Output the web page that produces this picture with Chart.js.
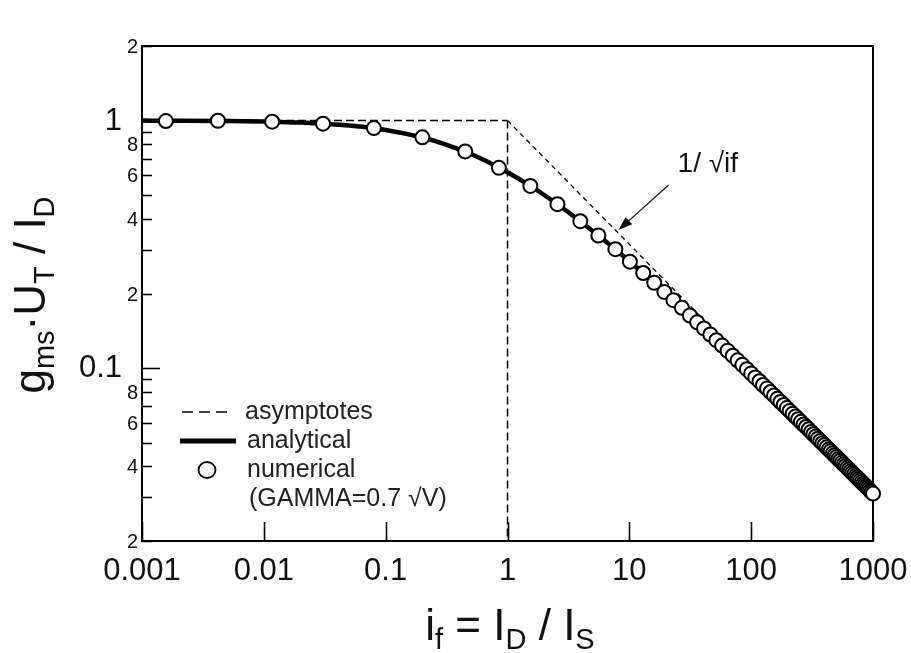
<!DOCTYPE html>
<html>
<head>
<meta charset="utf-8">
<script src="https://cdn.jsdelivr.net/npm/chart.js@4.4.1/dist/chart.umd.min.js"></script>
<style>
  html, body { margin: 0; padding: 0; background: #fff; }
  #wrap { width: 911px; height: 653px; }
</style>
</head>
<body>
<div id="wrap"><canvas id="gmChart"></canvas></div>
<script>
// axis ticks (log-log)
const X_TICKS = [0.001, 0.01, 0.1, 1, 10, 100, 1000];
const X_TICK_LABELS = ['0.001', '0.01', '0.1', '1', '10', '100', '1000'];
const Y_TICKS = [0.02, 0.03, 0.04, 0.05, 0.06, 0.07, 0.08, 0.09, 0.1,
                 0.2, 0.3, 0.4, 0.5, 0.6, 0.7, 0.8, 0.9, 1, 2];
const Y_TICK_LABELS = ['2', '', '4', '', '6', '', '8', '', '0.1',
                       '2', '', '4', '', '6', '', '8', '', '1', '2'];

// asymptotes: weak inversion (flat) and strong inversion (1/sqrt(if))
const ASYM_FLAT_X = [0.001, 1];
const ASYM_FLAT_Y = [1, 1];
const ASYM_SLOPE_X = [1, 1000];
const ASYM_SLOPE_Y = [1, 0.0316];
const ASYM_VERT_X = [1, 1];
const ASYM_VERT_Y = [1, 0.02];

// analytical curve
const ANA_X = [0.001, 0.002, 0.005, 0.01, 0.02, 0.05, 0.1, 0.2, 0.3, 0.5,
               0.7, 1, 1.5, 2, 3, 5, 7, 10, 15, 20,
               30, 50, 70, 100, 150, 200, 300, 500, 700, 1000];
const ANA_Y = [0.999, 0.998, 0.995, 0.990, 0.981, 0.954, 0.916, 0.854, 0.805, 0.732,
               0.678, 0.618, 0.549, 0.500, 0.434, 0.358, 0.313, 0.270, 0.227, 0.200,
               0.1667, 0.132, 0.1126, 0.0951, 0.0784, 0.0683, 0.0561, 0.0437, 0.0371, 0.0311];

// numerical simulation (GAMMA = 0.7 sqrt(V))
const NUM_X = [0.00157, 0.0042, 0.0117, 0.0306, 0.080, 0.20, 0.45, 0.85, 1.54, 2.57,
               3.96, 5.57, 7.68, 10.1, 13, 16, 19.4, 23, 27, 31.4,
               36, 41, 46.2, 51.8, 57.8, 64, 70.6, 77.4, 84.6, 92.2,
               100, 108, 117, 125, 135, 144, 154, 164, 174, 185,
               196, 207, 219, 231, 243, 256, 269, 282, 296, 310,
               324, 339, 353, 369, 384, 400, 416, 433, 449, 467,
               484, 502, 520, 538, 557, 576, 595, 615, 635, 655,
               676, 697, 718, 740, 762, 784, 807, 829, 853, 876,
               900, 924, 949, 973, 1000];
const NUM_Y = [0.995, 0.998, 0.989, 0.971, 0.932, 0.855, 0.750, 0.644, 0.544, 0.459,
               0.392, 0.343, 0.302, 0.269, 0.242, 0.221, 0.203, 0.188, 0.175, 0.163,
               0.153, 0.1445, 0.1366, 0.1296, 0.1232, 0.1174, 0.1122, 0.1074, 0.1030, 0.0989,
               0.0951, 0.0916, 0.0884, 0.0854, 0.0826, 0.0799, 0.0775, 0.0751, 0.0729, 0.0709,
               0.0689, 0.0671, 0.0653, 0.0637, 0.0621, 0.0606, 0.0591, 0.0578, 0.0565, 0.0552,
               0.0540, 0.0529, 0.0518, 0.0507, 0.0497, 0.0488, 0.0478, 0.0469, 0.0461, 0.0452,
               0.0444, 0.0437, 0.0429, 0.0422, 0.0415, 0.0408, 0.0402, 0.0395, 0.0389, 0.0383,
               0.0377, 0.0372, 0.0366, 0.0361, 0.0356, 0.0351, 0.0346, 0.0341, 0.0337, 0.0332,
               0.0328, 0.0324, 0.0319, 0.0315, 0.0311];

// annotation arrow pointing at the 1/sqrt(if) asymptote
const NOTE_TEXT_AT = [24.9, 0.62];
const NOTE_FROM = [21.0, 0.549];
const NOTE_TO = [8.15, 0.361];

const FONT = '"Liberation Sans", Arial, Helvetica, sans-serif';
const pts = (xs, ys) => xs.map((x, i) => ({ x, y: ys[i] }));

// draws a run of text pieces, some of them as subscripts
function richText(ctx, parts, size, cx, baseline) {
  const subSize = Math.round(size * 0.66);
  let total = 0;
  parts.forEach(p => {
    ctx.font = (p[1] ? subSize : size) + 'px ' + FONT;
    p.w = ctx.measureText(p[0]).width;
    total += p.w;
  });
  let x = cx - total / 2;
  ctx.textAlign = 'left';
  ctx.textBaseline = 'alphabetic';
  parts.forEach(p => {
    ctx.font = (p[1] ? subSize : size) + 'px ' + FONT;
    ctx.fillText(p[0], x, baseline + (p[1] ? size * 0.2 : 0));
    x += p.w;
  });
}

const axesPlugin = {
  id: 'axesPlugin',
  beforeDatasetsDraw(chart) {
    const { ctx, chartArea: a, scales: { x, y } } = chart;
    ctx.save();
    ctx.strokeStyle = '#000';
    ctx.lineWidth = 2;
    ctx.strokeRect(a.left, a.top, a.right - a.left, a.bottom - a.top);
    // inward ticks on the left axis
    ctx.lineWidth = 1.6;
    Y_TICKS.forEach(v => {
      const py = Math.round(y.getPixelForValue(v)) + 0.5;
      const len = (v === 0.1 || v === 1) ? 18 : 10;
      ctx.beginPath();
      ctx.moveTo(a.left, py);
      ctx.lineTo(a.left + len, py);
      ctx.stroke();
    });
    // inward ticks on the bottom axis
    X_TICKS.forEach(v => {
      const px = Math.round(x.getPixelForValue(v)) + 0.5;
      ctx.beginPath();
      ctx.moveTo(px, a.bottom);
      ctx.lineTo(px, a.bottom - 19);
      ctx.stroke();
    });
    ctx.restore();
  },
  afterDraw(chart) {
    const { ctx, chartArea: a, scales: { x, y } } = chart;
    ctx.save();
    ctx.fillStyle = '#111';

    // tick labels
    ctx.textAlign = 'right';
    ctx.textBaseline = 'alphabetic';
    Y_TICKS.forEach((v, i) => {
      const lab = Y_TICK_LABELS[i];
      if (!lab) return;
      const py = y.getPixelForValue(v);
      if (lab === '0.1' || lab === '1') {
        ctx.font = '31px ' + FONT;
        ctx.fillText(lab, a.left - 20, py + 9);
      } else {
        ctx.font = '20px ' + FONT;
        ctx.fillText(lab, a.left - 4, py + 7);
      }
    });
    ctx.textAlign = 'center';
    ctx.font = '31px ' + FONT;
    X_TICKS.forEach((v, i) => {
      ctx.fillText(X_TICK_LABELS[i], x.getPixelForValue(v), a.bottom + 39);
    });

    // axis titles
    richText(ctx, [['i'], ['f', 1], [' = I'], ['D', 1], [' / I'], ['S', 1]], 44, 510, 640);
    ctx.save();
    ctx.translate(45, 295);
    ctx.rotate(-Math.PI / 2);
    richText(ctx, [['g'], ['ms', 1], ['\u00B7U'], ['T', 1], [' / I'], ['D', 1]], 44, 0, 0);
    ctx.restore();

    // annotation
    ctx.font = '28px ' + FONT;
    ctx.textAlign = 'left';
    ctx.fillText('1/ \u221Aif', x.getPixelForValue(NOTE_TEXT_AT[0]), y.getPixelForValue(NOTE_TEXT_AT[1]));
    const x0 = x.getPixelForValue(NOTE_FROM[0]), y0 = y.getPixelForValue(NOTE_FROM[1]);
    const x1 = x.getPixelForValue(NOTE_TO[0]), y1 = y.getPixelForValue(NOTE_TO[1]);
    const ang = Math.atan2(y1 - y0, x1 - x0);
    ctx.strokeStyle = '#111';
    ctx.lineWidth = 1.2;
    ctx.beginPath();
    ctx.moveTo(x0, y0);
    ctx.lineTo(x1 - 10 * Math.cos(ang), y1 - 10 * Math.sin(ang));
    ctx.stroke();
    ctx.beginPath();
    ctx.moveTo(x1, y1);
    ctx.lineTo(x1 - 14 * Math.cos(ang) + 5 * Math.sin(ang), y1 - 14 * Math.sin(ang) - 5 * Math.cos(ang));
    ctx.lineTo(x1 - 14 * Math.cos(ang) - 5 * Math.sin(ang), y1 - 14 * Math.sin(ang) + 5 * Math.cos(ang));
    ctx.closePath();
    ctx.fill();

    // legend box in the lower left of the plot
    const lx = a.left + 40, ly = a.top + 366;
    ctx.strokeStyle = '#000';
    ctx.lineWidth = 1.5;
    ctx.setLineDash([11, 6]);
    ctx.beginPath(); ctx.moveTo(lx, ly); ctx.lineTo(lx + 46, ly); ctx.stroke();
    ctx.setLineDash([]);
    ctx.lineWidth = 5;
    ctx.beginPath(); ctx.moveTo(lx - 2, ly + 29); ctx.lineTo(lx + 54, ly + 29); ctx.stroke();
    ctx.lineWidth = 1.8;
    ctx.beginPath(); ctx.ellipse(lx + 25, ly + 58, 8.5, 8, 0, 0, Math.PI * 2); ctx.stroke();
    ctx.font = '25px ' + FONT;
    ctx.textBaseline = 'middle';
    ctx.fillStyle = '#222';
    ctx.fillText('asymptotes', lx + 63, ly);
    ctx.fillText('analytical', lx + 65, ly + 29);
    ctx.fillText('numerical', lx + 65, ly + 58);
    ctx.fillText('(GAMMA=0.7 \u221AV)', lx + 67, ly + 87);
    ctx.restore();
  }
};

const dashed = { borderColor: '#000', borderWidth: 1.5, borderDash: [8, 4], pointRadius: 0, fill: false, order: 2 };

new Chart(document.getElementById('gmChart'), {
  type: 'line',
  data: {
    datasets: [
      { label: 'numerical', data: pts(NUM_X, NUM_Y), showLine: false,
        pointRadius: 7, pointBorderWidth: 2, pointBorderColor: '#000',
        pointBackgroundColor: '#fff', clip: 10, order: 0 },
      { label: 'analytical', data: pts(ANA_X, ANA_Y), borderColor: '#000', borderWidth: 4.5,
        pointRadius: 0, cubicInterpolationMode: 'monotone', order: 1 },
      Object.assign({ label: 'asymptotes', data: pts(ASYM_FLAT_X, ASYM_FLAT_Y) }, dashed),
      Object.assign({ label: 'asymptotes', data: pts(ASYM_SLOPE_X, ASYM_SLOPE_Y) }, dashed, { borderDash: [5, 4], borderWidth: 1.3 }),
      Object.assign({ label: 'asymptotes', data: pts(ASYM_VERT_X, ASYM_VERT_Y) }, dashed)
    ]
  },
  options: {
    responsive: true,
    maintainAspectRatio: false,
    animation: false,
    events: [],
    layout: { padding: { left: 142, top: 46, right: 38, bottom: 112 } },
    scales: {
      x: { type: 'logarithmic', min: 0.001, max: 1000, display: false },
      y: { type: 'logarithmic', min: 0.02, max: 2, display: false }
    },
    plugins: {
      legend: { display: false },
      tooltip: { enabled: false }
    }
  },
  plugins: [axesPlugin]
});
</script>
</body>
</html>
